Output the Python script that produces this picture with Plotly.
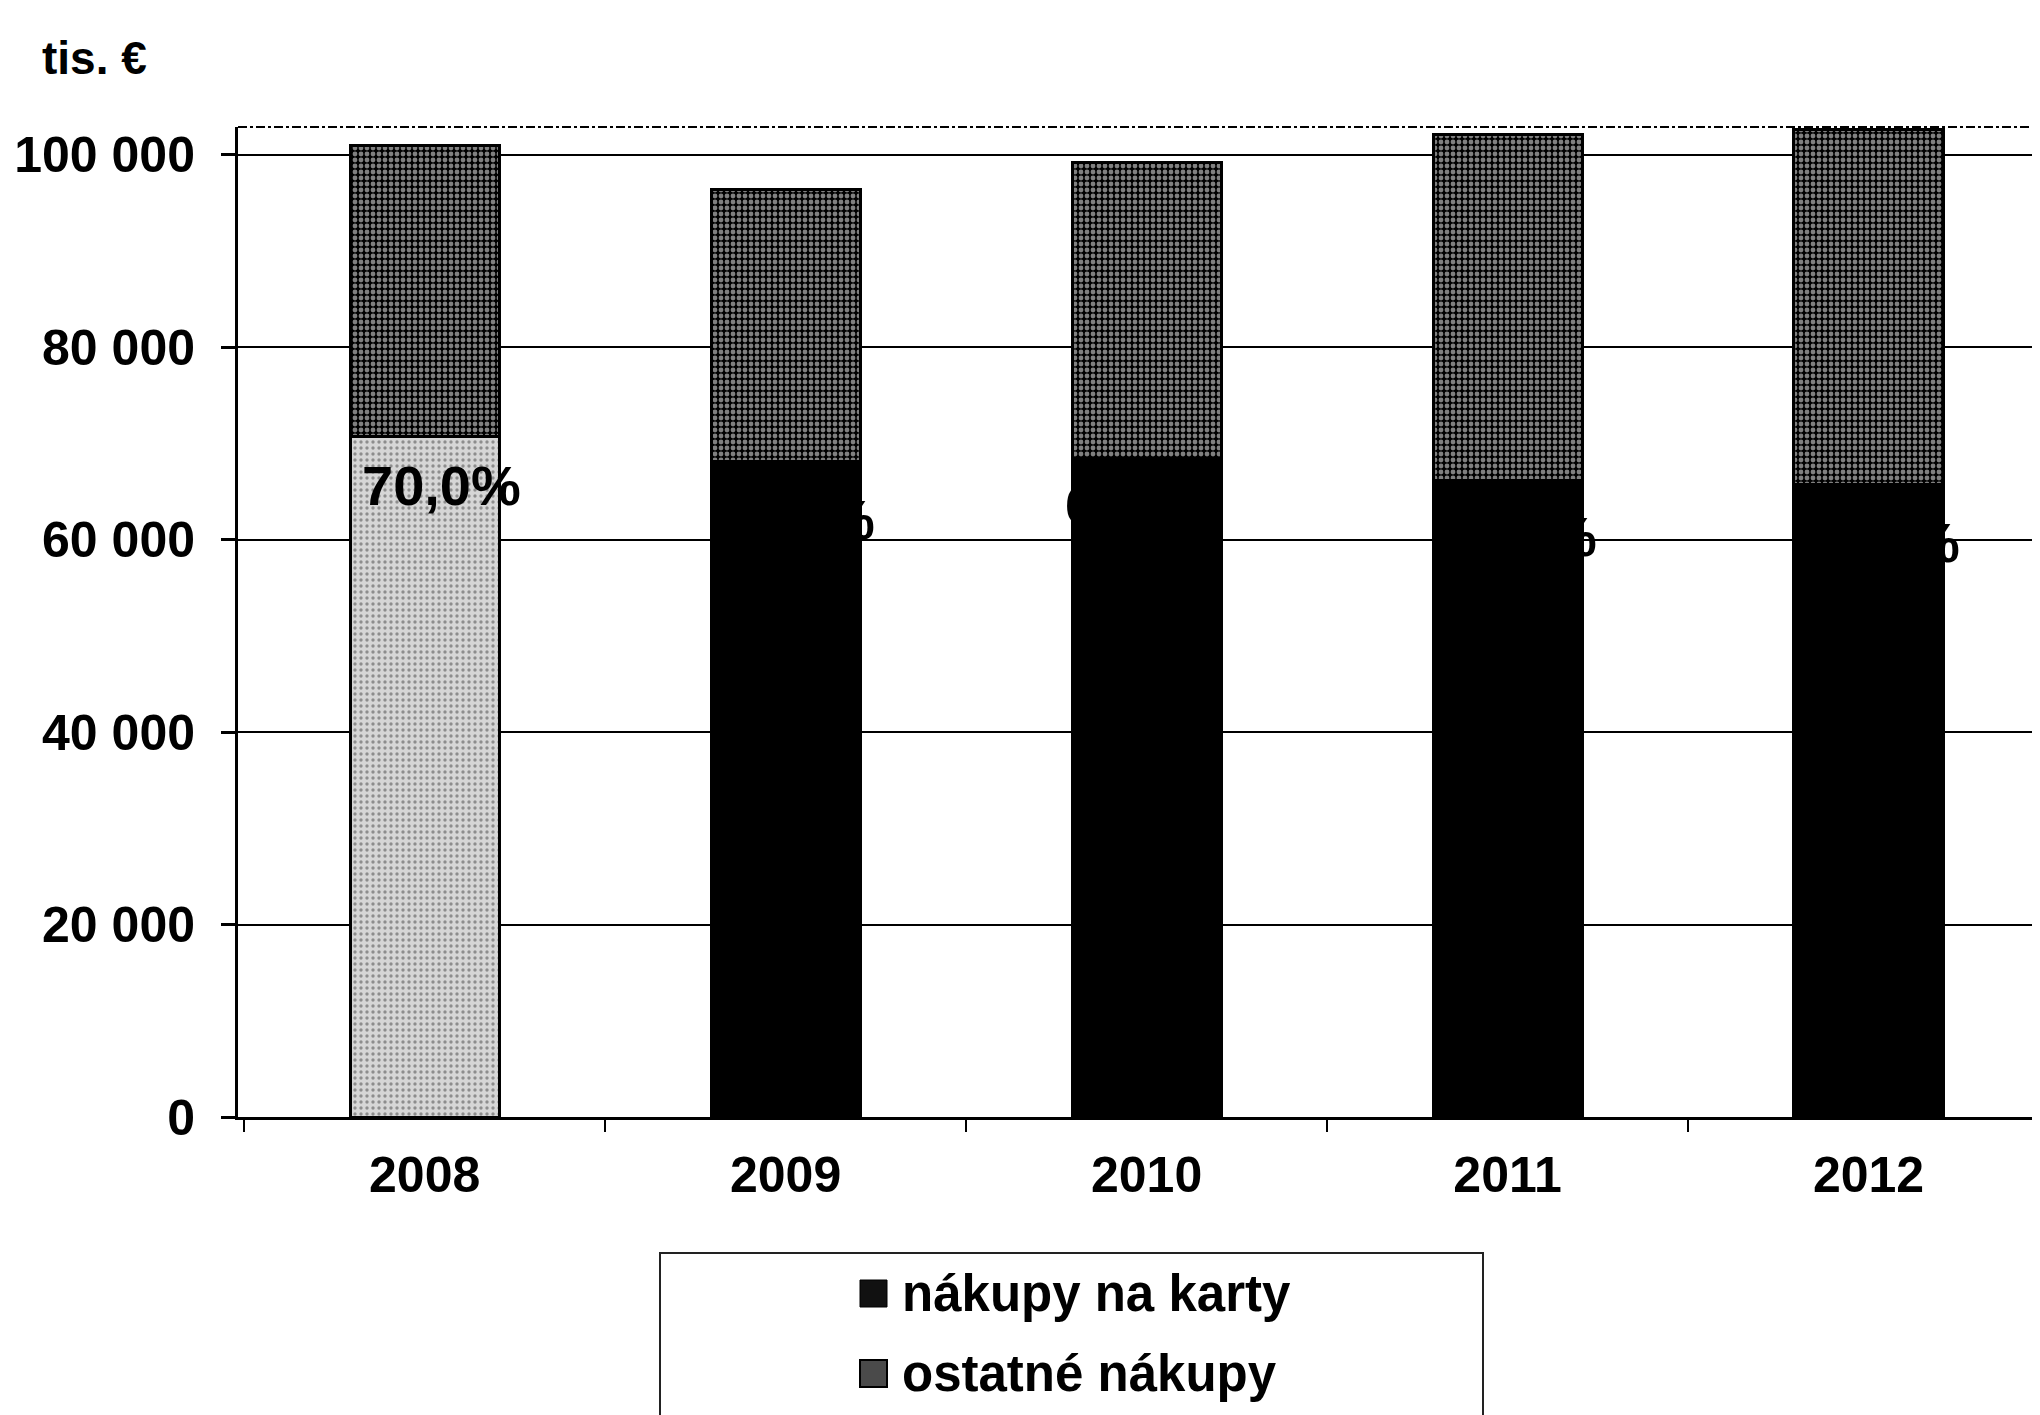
import plotly.graph_objects as go

# ---------------- data ----------------
years = ["2008", "2009", "2010", "2011", "2012"]
cards = [70700, 68100, 68500, 66200, 65700]      # nákupy na karty (tis. €)
others = [30300, 28300, 30700, 35900, 36900]     # ostatné nákupy (tis. €)
y_ticks = [0, 20000, 40000, 60000, 80000, 100000]
series_names = ["nákupy na karty", "ostatné nákupy"]
unit_label = "tis. €"

# ---------------- style ----------------
OFF = 8                      # default page margin of the html body
W, H = 2040 - OFF, 1415 - OFF
L = 238 - OFF                # plot-area left  (figure px)
T = 127 - OFF                # plot-area top
BOT = 1117 - OFF             # plot-area bottom
PW, PH = W - L, BOT - T
FONT = "Liberation Sans, Arial, sans-serif"
label_xshift = [17, 10, -2, 10, 12]
label_yshift = [-49, -58, -46, -56, -58]


def xp(p):
    """screen x (px) -> paper"""
    return (p - OFF - L) / PW


def yp(p):
    """screen y (px) -> paper"""
    return (BOT - (p - OFF)) / PH


pct_labels = [f"{100 * c / (c + o):.1f}".replace(".", ",") + "%"
              for c, o in zip(cards, others)]

fig = go.Figure()

fig.add_trace(go.Bar(
    x=years, y=cards, name=series_names[0], showlegend=False,
    width=0.413,
    marker=dict(
        color=["#d6d6d6", "#000000", "#000000", "#000000", "#000000"],
        line=dict(color="#000000", width=3),
        pattern=dict(
            shape=[".", "", "", "", ""],
            fgcolor="#000000",
            bgcolor=["#ffffff", "#000000", "#000000", "#000000", "#000000"],
            size=6, solidity=0.25,
        ),
    ),
))
fig.add_trace(go.Bar(
    x=years, y=others, name=series_names[1], showlegend=False,
    width=0.413,
    marker=dict(
        color="#555555",
        line=dict(color="#000000", width=3),
        pattern=dict(shape=".", fgcolor="#ffffff", bgcolor="#000000",
                     size=6, solidity=0.5),
    ),
))

annotations = []
for i, c in enumerate(cards):
    annotations.append(dict(
        x=i, y=c, xref="x", yref="y", text=pct_labels[i], showarrow=False,
        xanchor="center", yanchor="middle",
        xshift=label_xshift[i], yshift=label_yshift[i],
        font=dict(family=FONT, size=56, color="#000000", weight="bold"),
    ))

# unit label
annotations.append(dict(
    x=xp(94), y=yp(58), xref="paper", yref="paper", text=unit_label,
    showarrow=False, xanchor="center", yanchor="middle",
    font=dict(family=FONT, size=46, color="#000000", weight="bold"),
))

shapes = [
    # dotted top border of the plot area
    dict(type="line", xref="paper", yref="paper", x0=0, x1=1, y0=1, y1=1,
         line=dict(color="#000000", width=2, dash="dashdot")),
    # legend box
    dict(type="rect", xref="paper", yref="paper",
         x0=xp(660), x1=xp(1483), y0=yp(1253), y1=yp(1440),
         line=dict(color="#222222", width=2), fillcolor="rgba(0,0,0,0)"),
    # legend swatches
    dict(type="rect", xref="paper", yref="paper",
         x0=xp(860), x1=xp(887), y0=yp(1280), y1=yp(1307),
         line=dict(color="#000000", width=1), fillcolor="#111111"),
    dict(type="rect", xref="paper", yref="paper",
         x0=xp(860), x1=xp(887), y0=yp(1360), y1=yp(1387),
         line=dict(color="#000000", width=2), fillcolor="#4a4a4a"),
]
for name, cy in zip(series_names, [1293, 1373]):
    annotations.append(dict(
        x=xp(900), y=yp(cy), xref="paper", yref="paper", text=name,
        showarrow=False, xanchor="left", yanchor="middle",
        font=dict(family=FONT, size=51, color="#000000", weight="bold"),
    ))

fig.update_layout(
    width=W, height=H,
    margin=dict(l=L, r=0, t=T, b=H - BOT, pad=0),
    barmode="stack",
    paper_bgcolor="#ffffff", plot_bgcolor="#ffffff",
    separators=", ",
    showlegend=False,
    annotations=annotations,
    shapes=shapes,
    font=dict(family=FONT, color="#000000"),
)

fig.update_xaxes(
    type="category", range=[-0.517, 4.475],
    showline=True, linecolor="#000000", linewidth=3,
    ticks="outside", tickson="boundaries", ticklen=12, tickwidth=2,
    tickcolor="#000000", showgrid=False,
    tickfont=dict(family=FONT, size=50, color="#000000", weight="bold"),
    ticklabelstandoff=12,
)
fig.update_yaxes(
    range=[0, 102910], tickvals=y_ticks, tickformat=",d",
    showline=True, linecolor="#000000", linewidth=3,
    ticks="outside", ticklen=14, tickwidth=3, tickcolor="#000000",
    showgrid=True, gridcolor="#000000", gridwidth=2, zeroline=False,
    tickfont=dict(family=FONT, size=50, color="#000000", weight="bold"),
    ticklabelstandoff=16,
)

fig.write_html("out.html")
